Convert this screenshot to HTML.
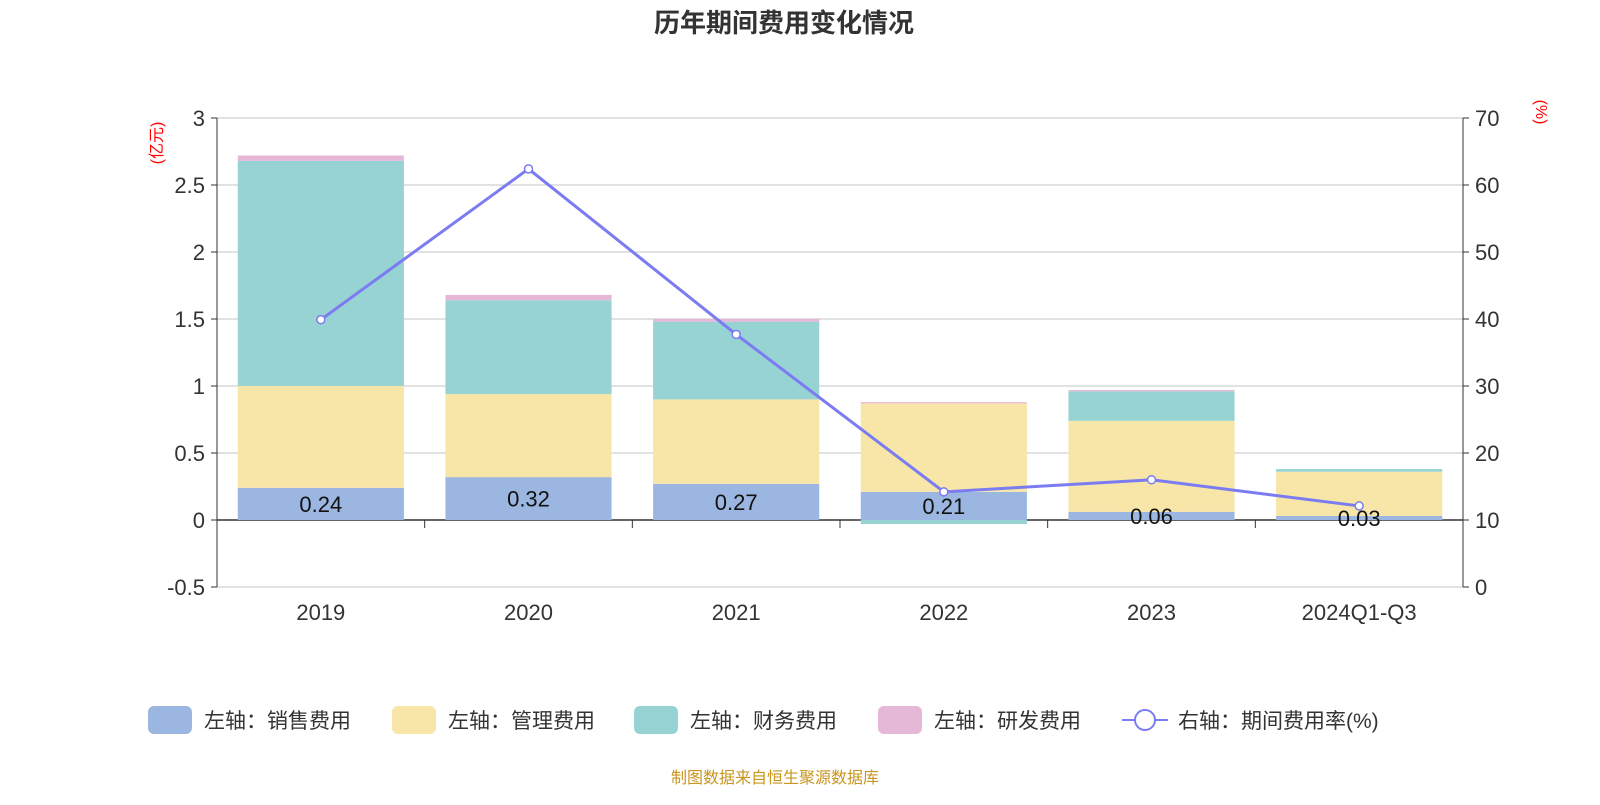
<!DOCTYPE html>
<html><head><meta charset="utf-8">
<style>
body{margin:0;background:#fff;width:1600px;height:800px;overflow:hidden}
svg text{font-family:"Liberation Sans","Noto Sans CJK SC",sans-serif}
</style></head>
<body>
<svg id="chart" width="1600" height="800" xmlns="http://www.w3.org/2000/svg">
<text x="784" y="32" text-anchor="middle" font-size="26" font-weight="bold" fill="#333">历年期间费用变化情况</text>
<text x="775" y="783" text-anchor="middle" font-size="16" fill="#c8961e">制图数据来自恒生聚源数据库</text>
<g id="axes"></g><g id="bars"></g><g id="line"></g><g id="legend"></g>
</svg>
<script>
const categories=["2019","2020","2021","2022","2023","2024Q1-Q3"];
const sales=[0.24,0.32,0.27,0.21,0.06,0.03];
const mgmt=[0.76,0.62,0.63,0.66,0.68,0.33];
const finance=[1.68,0.70,0.58,-0.03,0.22,0.02];
const rnd=[0.04,0.04,0.02,0.01,0.01,0.0];
const rate=[39.9,62.4,37.7,14.2,16.0,12.1];
const leftTicks=[-0.5,0,0.5,1,1.5,2,2.5,3];
const rightTicks=[0,10,20,30,40,50,60,70];
const salesLabels=["0.24","0.32","0.27","0.21","0.06","0.03"];

const NS="http://www.w3.org/2000/svg";
const X0=217,X1=1463;
const yL=v=>520-v*134;
const yR=v=>587-v*6.7;
const band=(X1-X0)/categories.length;
const xC=i=>X0+band*(i+0.5);
function mk(p,tag,at){const e=document.createElementNS(NS,tag);for(const k in at)e.setAttribute(k,at[k]);p.appendChild(e);return e;}
const ax=document.getElementById('axes');
leftTicks.forEach(t=>{
 const g=mk(ax,'line',{x1:X0,x2:X1,y1:yL(t),y2:yL(t),stroke:t===0?'#333':'#c4c4c4','stroke-width':t===0?1.5:1});
 
 
 mk(ax,'line',{x1:X0-6,x2:X0,y1:yL(t),y2:yL(t),stroke:'#333'});
 const tx=mk(ax,'text',{x:X0-12,y:yL(t)+8,'text-anchor':'end','font-size':22,fill:'#333'});tx.textContent=t;
 
 
});
rightTicks.forEach(t=>{
 mk(ax,'line',{x1:X1,x2:X1+6,y1:yR(t),y2:yR(t),stroke:'#333'});
 const tx=mk(ax,'text',{x:X1+12,y:yR(t)+8,'font-size':22,fill:'#333'});tx.textContent=t;
 
 
});
mk(ax,'line',{x1:X0,x2:X0,y1:118,y2:587,stroke:'#333'});
mk(ax,'line',{x1:X1,x2:X1,y1:118,y2:587,stroke:'#333'});
for(let i=1;i<categories.length;i++)mk(ax,'line',{x1:X0+band*i,x2:X0+band*i,y1:520,y2:528,stroke:'#333'});
categories.forEach((c,i)=>{const t=mk(ax,'text',{x:xC(i),y:620,'text-anchor':'middle','font-size':22,fill:'#333'});t.textContent=c;
 
 });
let u=mk(ax,'text',{x:0,y:0,'font-size':16,fill:'red',transform:'translate(162,143) rotate(-90)','text-anchor':'middle'});u.textContent='(亿元)';

u=mk(ax,'text',{x:0,y:0,'font-size':16,fill:'red',transform:'translate(1536,112) rotate(90)','text-anchor':'middle'});u.textContent='(%)';


const series=[[sales,'#9bb6e0'],[mgmt,'#f7e6a8'],[finance,'#98d3d3'],[rnd,'#e6b8d8']];
const bg=document.getElementById('bars');const bw=band*0.8;
categories.forEach((c,i)=>{
 let pos=0,neg=0;
 series.forEach(([arr,col],s)=>{
  const v=arr[i];let y0,y1;
  if(v>=0){y0=pos;y1=pos+v;pos=y1;}else{y0=neg;y1=neg+v;neg=y1;}
  const r=mk(bg,'rect',{x:xC(i)-bw/2,y:Math.min(yL(y0),yL(y1)),width:bw,height:Math.abs(yL(y1)-yL(y0)),fill:col});
  
  
 });
 const t=mk(bg,'text',{x:xC(i),y:yL(sales[i]/2)+8,'text-anchor':'middle','font-size':22,fill:'#111'});t.textContent=salesLabels[i];
 
 
});
const lg=document.getElementById('line');
const pts=rate.map((v,i)=>xC(i)+','+yR(v)).join(' ');
const pl=mk(lg,'polyline',{points:pts,fill:'none',stroke:'#7b7cf2','stroke-width':3});


rate.forEach((v,i)=>{const c=mk(lg,'circle',{cx:xC(i),cy:yR(v),r:4,fill:'#fff',stroke:'#7b7cf2','stroke-width':1.5});
 
 });

const leg=document.getElementById('legend');
const items=[['左轴：销售费用','#9bb6e0',148],['左轴：管理费用','#f7e6a8',392],['左轴：财务费用','#98d3d3',634],['左轴：研发费用','#e6b8d8',878]];
items.forEach(([n,c,x])=>{
 const g=mk(leg,'g',{});
 
 
 mk(g,'rect',{x:x,y:706,width:44,height:28,rx:6,fill:c});
 const t=mk(g,'text',{x:x+56,y:728,'font-size':21,fill:'#333'});t.textContent=n;
});
const g=mk(leg,'g',{});


mk(g,'line',{x1:1122,x2:1168,y1:720,y2:720,stroke:'#7b7cf2','stroke-width':2});
mk(g,'circle',{cx:1145,cy:720,r:10,fill:'#fff',stroke:'#7b7cf2','stroke-width':2});
const t=mk(g,'text',{x:1178,y:728,'font-size':21,fill:'#333'});t.textContent='右轴：期间费用率(%)';
</script>
</body></html>
